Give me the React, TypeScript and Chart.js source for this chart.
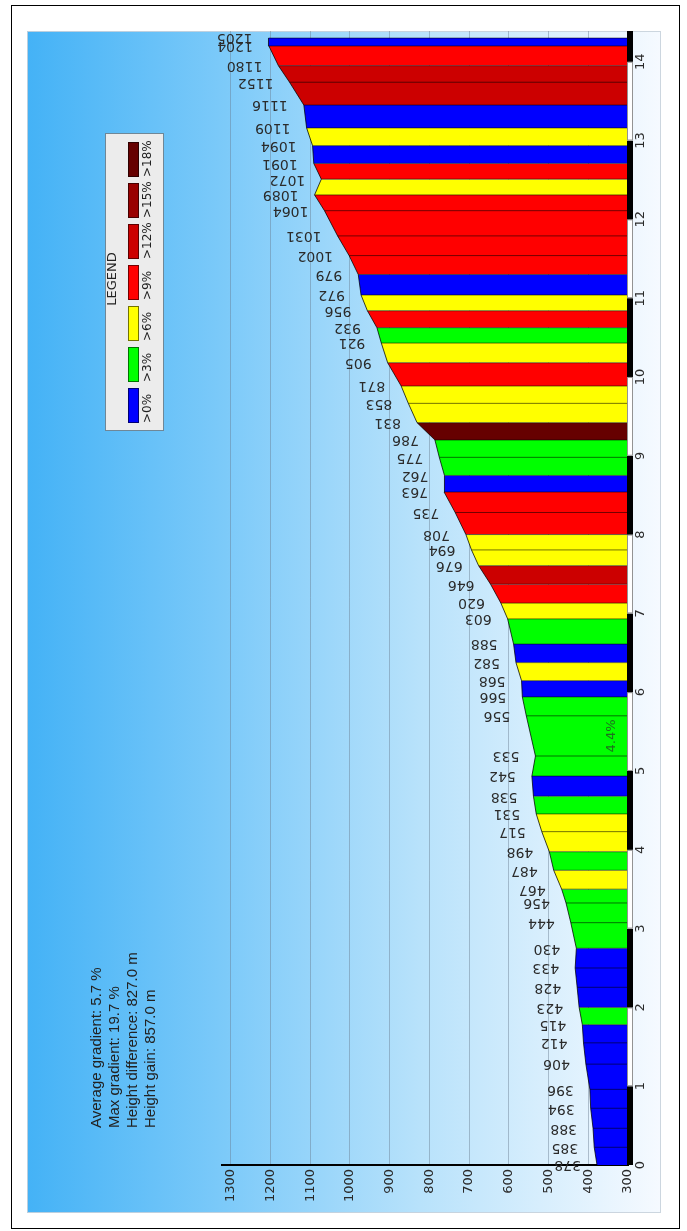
import React, { useEffect, useRef } from 'react';
import { Chart, registerables } from 'chart.js';

Chart.register(...registerables);

// distance along route (km) of each profile point
const DIST_KM = [
  0, 0.225, 0.466, 0.72, 0.96, 1.28, 1.55, 1.78, 2.0, 2.255,
  2.5, 2.75, 3.075, 3.325, 3.5, 3.74, 3.975, 4.23, 4.455, 4.68,
  4.935, 5.19, 5.7, 5.94, 6.146, 6.375, 6.61, 6.93, 7.13, 7.37,
  7.605, 7.805, 8.0, 8.28, 8.54, 8.75, 8.98, 9.2, 9.42, 9.665,
  9.885, 10.18, 10.43, 10.625, 10.84, 11.04, 11.3, 11.54, 11.79, 12.11,
  12.31, 12.51, 12.71, 12.935, 13.16, 13.45, 13.74, 13.95, 14.2, 14.3,
];

// elevation (m) at each profile point
const ELEV_M = [
  378, 385, 388, 394, 396, 406, 412, 415, 423, 428,
  433, 430, 444, 456, 467, 487, 498, 517, 531, 538,
  542, 533, 556, 566, 568, 582, 588, 603, 620, 646,
  676, 694, 708, 735, 763, 762, 775, 786, 831, 853,
  871, 905, 921, 932, 956, 972, 979, 1002, 1031, 1064,
  1089, 1072, 1091, 1094, 1109, 1116, 1152, 1180, 1204, 1205,
];

// gradient class of each segment (index into GRADE_COLORS)
const SEG_CLASS = [
  0, 0, 0, 0, 0, 0, 0, 1, 0, 0, 0, 1, 1, 1, 2, 1, 2, 2, 1, 0,
  1, 1, 1, 0, 2, 0, 1, 2, 3, 4, 2, 2, 3, 3, 0, 1, 1, 6, 2, 2,
  3, 2, 1, 3, 2, 0, 3, 3, 3, 3, 2, 3, 0, 2, 0, 4, 4, 3, 0,
];

const GRADE_COLORS = ['#0000ff', '#00ff00', '#ffff00', '#ff0000', '#cc0000', '#990000', '#660000'];
const GRADE_LABELS = ['>0%', '>3%', '>6%', '>9%', '>12%', '>15%', '>18%'];

const ELEV_TICKS = [300, 400, 500, 600, 700, 800, 900, 1000, 1100, 1200, 1300];
const KM_TICKS = [0, 1, 2, 3, 4, 5, 6, 7, 8, 9, 10, 11, 12, 13, 14];

const STATS = [
  'Average gradient: 5.7 %',
  'Max gradient: 19.7 %',
  'Height difference: 827.0 m',
  'Height gain: 857.0 m',
];

const NOTE_SEGMENT = 21;
const NOTE_TEXT = '4.4%';

const W = 687;
const H = 1231;

const bgPlugin = {
  id: 'bgPanel',
  beforeDraw(chart: any) {
    const ctx = chart.ctx;
    ctx.save();
    ctx.fillStyle = '#ffffff';
    ctx.fillRect(0, 0, W, H);
    // outer frame
    ctx.strokeStyle = '#000';
    ctx.lineWidth = 1;
    ctx.strokeRect(11.5, 5.5, 668, 1223);
    // gradient panel
    const px = 27, py = 31, pw = 634, ph = 1182;
    const g = ctx.createLinearGradient(px, 0, px + pw, 0);
    g.addColorStop(0, 'rgb(68,178,246)');
    g.addColorStop(0.3, 'rgb(122,201,249)');
    g.addColorStop(0.62, 'rgb(184,226,251)');
    g.addColorStop(1, 'rgb(246,250,255)');
    ctx.fillStyle = g;
    ctx.fillRect(px, py, pw, ph);
    ctx.strokeStyle = 'rgba(200,210,220,0.9)';
    ctx.strokeRect(px + 0.5, py + 0.5, pw - 1, ph - 1);

    // stats text (rotated, reading bottom to top)
    ctx.fillStyle = '#222';
    ctx.font = '15px "Liberation Sans", Arial, sans-serif';
    ctx.textAlign = 'left';
    ctx.textBaseline = 'middle';
    const sx = [97, 115, 133, 151];
    STATS.forEach((s, i) => {
      ctx.save();
      ctx.translate(sx[i], 1128);
      ctx.rotate(-Math.PI / 2);
      ctx.fillText(s, 0, 0);
      ctx.restore();
    });

    // legend box
    ctx.fillStyle = '#ececec';
    ctx.fillRect(105, 133, 58, 297);
    ctx.strokeStyle = '#6f8797';
    ctx.strokeRect(105.5, 133.5, 58, 297);
    ctx.fillStyle = '#222';
    ctx.font = '13px "DejaVu Sans", sans-serif';
    ctx.textAlign = 'center';
    ctx.save();
    ctx.translate(113, 279);
    ctx.rotate(-Math.PI / 2);
    ctx.fillText('LEGEND', 0, 0);
    ctx.restore();
    const n = GRADE_COLORS.length;
    for (let i = 0; i < n; i++) {
      // top to bottom: highest class first
      const cls = n - 1 - i;
      const y = 142 + i * 41;
      ctx.fillStyle = GRADE_COLORS[cls];
      ctx.fillRect(128, y, 11, 35);
      ctx.strokeStyle = 'rgba(0,0,0,0.55)';
      ctx.strokeRect(128.5, y + 0.5, 10, 34);
      ctx.fillStyle = '#222';
      ctx.textAlign = 'left';
      ctx.font = '12px "DejaVu Sans", sans-serif';
      ctx.save();
      ctx.translate(148, y + 35);
      ctx.rotate(-Math.PI / 2);
      ctx.fillText(GRADE_LABELS[cls], 0, 0);
      ctx.restore();
    }
    ctx.restore();
  },
};

const overlayPlugin = {
  id: 'overlay',
  afterDatasetsDraw(chart: any) {
    const ctx = chart.ctx;
    const area = chart.chartArea;
    const xs = chart.scales.x;
    const ys = chart.scales.y;
    const meta = chart.getDatasetMeta(0);
    ctx.save();
    ctx.beginPath();
    ctx.rect(0, area.top, W, H - area.top);
    ctx.clip();
    // elevation labels (upside down)
    ctx.fillStyle = '#2b2b2b';
    ctx.font = '14px "DejaVu Sans", sans-serif';
    ctx.textAlign = 'left';
    ctx.textBaseline = 'middle';
    meta.data.forEach((pt: any, i: number) => {
      ctx.save();
      ctx.translate(pt.x - 16, pt.y);
      ctx.rotate(Math.PI);
      ctx.fillText(String(ELEV_M[i]), 0, 0);
      ctx.restore();
    });
    // gradient note
    const p0 = meta.data[NOTE_SEGMENT];
    const p1 = meta.data[NOTE_SEGMENT + 1];
    ctx.save();
    ctx.fillStyle = '#1f6f1f';
    ctx.font = '13px "DejaVu Sans", sans-serif';
    ctx.textAlign = 'center';
    ctx.translate(xs.getPixelForValue(340), (p0.y + p1.y) / 2);
    ctx.rotate(-Math.PI / 2);
    ctx.fillText(NOTE_TEXT, 0, 0);
    ctx.restore();
    // km scale bar
    const bx = area.right - 1;
    for (const k of KM_TICKS) {
      const y0 = ys.getPixelForValue(k);
      const y1 = ys.getPixelForValue(Math.min(k + 1, ys.max));
      if (k % 2 === 0) {
        ctx.fillStyle = '#000';
        ctx.fillRect(bx, y1, 6, y0 - y1);
      } else {
        ctx.fillStyle = '#fff';
        ctx.fillRect(bx, y1, 6, y0 - y1);
        ctx.strokeStyle = 'rgba(120,120,120,0.8)';
        ctx.lineWidth = 1;
        ctx.strokeRect(bx + 0.5, y1 + 0.5, 5, y0 - y1 - 1);
      }
    }
    ctx.restore();
  },
};

export default function App() {
  const ref = useRef<HTMLCanvasElement | null>(null);

  useEffect(() => {
    if (!ref.current) return;
    Chart.defaults.font.family = '"DejaVu Sans", sans-serif';
    const profile = DIST_KM.map((d, i) => ({ x: ELEV_M[i], y: d }));
    const dividers: any[] = [];
    for (let i = 1; i < DIST_KM.length; i++) {
      dividers.push({ x: 300, y: DIST_KM[i] });
      dividers.push({ x: ELEV_M[i], y: DIST_KM[i] });
      dividers.push({ x: null, y: null });
    }
    const chart = new Chart(ref.current, {
      type: 'line',
      data: {
        datasets: [
          {
            label: 'profile',
            data: profile,
            borderColor: 'rgba(0,0,0,0.75)',
            borderWidth: 1,
            pointRadius: 0,
            tension: 0,
            fill: { value: 300 },
            backgroundColor: GRADE_COLORS[0],
            segment: {
              backgroundColor: (c: any) => GRADE_COLORS[SEG_CLASS[c.p0DataIndex]],
            },
            order: 2,
          } as any,
          {
            label: 'dividers',
            data: dividers,
            borderColor: 'rgba(0,0,0,0.55)',
            borderWidth: 1,
            pointRadius: 0,
            fill: false,
            spanGaps: false,
            order: 1,
          } as any,
        ],
      },
      options: {
        indexAxis: 'y',
        responsive: false,
        animation: false,
        events: [],
        layout: { padding: { left: 222, top: 31, right: 29, bottom: 26 } },
        scales: {
          x: {
            type: 'linear',
            position: 'bottom',
            reverse: true,
            min: 300,
            max: 1322,
            afterBuildTicks: (s: any) => {
              s.ticks = ELEV_TICKS.map((v) => ({ value: v }));
            },
            afterFit: (s: any) => {
              s.height = 40;
            },
            ticks: {
              minRotation: 90,
              maxRotation: 90,
              autoSkip: false,
              padding: 4,
              color: '#2a2a2a',
              font: { size: 13 },
              callback: (v: any) => String(v),
            },
            grid: { color: 'rgba(105,125,145,0.45)', lineWidth: 1, drawTicks: false },
            border: { color: '#000', width: 2 },
          },
          y: {
            type: 'linear',
            position: 'right',
            min: 0,
            max: 14.39,
            afterBuildTicks: (s: any) => {
              s.ticks = KM_TICKS.map((v) => ({ value: v }));
            },
            afterFit: (s: any) => {
              s.width = 30;
            },
            ticks: {
              minRotation: 90,
              maxRotation: 90,
              autoSkip: false,
              crossAlign: 'center',
              padding: 4,
              color: '#2a2a2a',
              font: { size: 13 },
              callback: (v: any) => String(v),
            },
            grid: { display: false, drawTicks: false },
            border: { display: false },
          },
        },
        plugins: {
          legend: { display: false },
          tooltip: { enabled: false },
        },
      } as any,
      plugins: [bgPlugin, overlayPlugin],
    });
    return () => chart.destroy();
  }, []);

  return (
    <div style={{ position: 'absolute', left: 0, top: 0, width: W, height: H }}>
      <canvas ref={ref} width={W} height={H} style={{ display: 'block', width: W, height: H }} />
    </div>
  );
}
